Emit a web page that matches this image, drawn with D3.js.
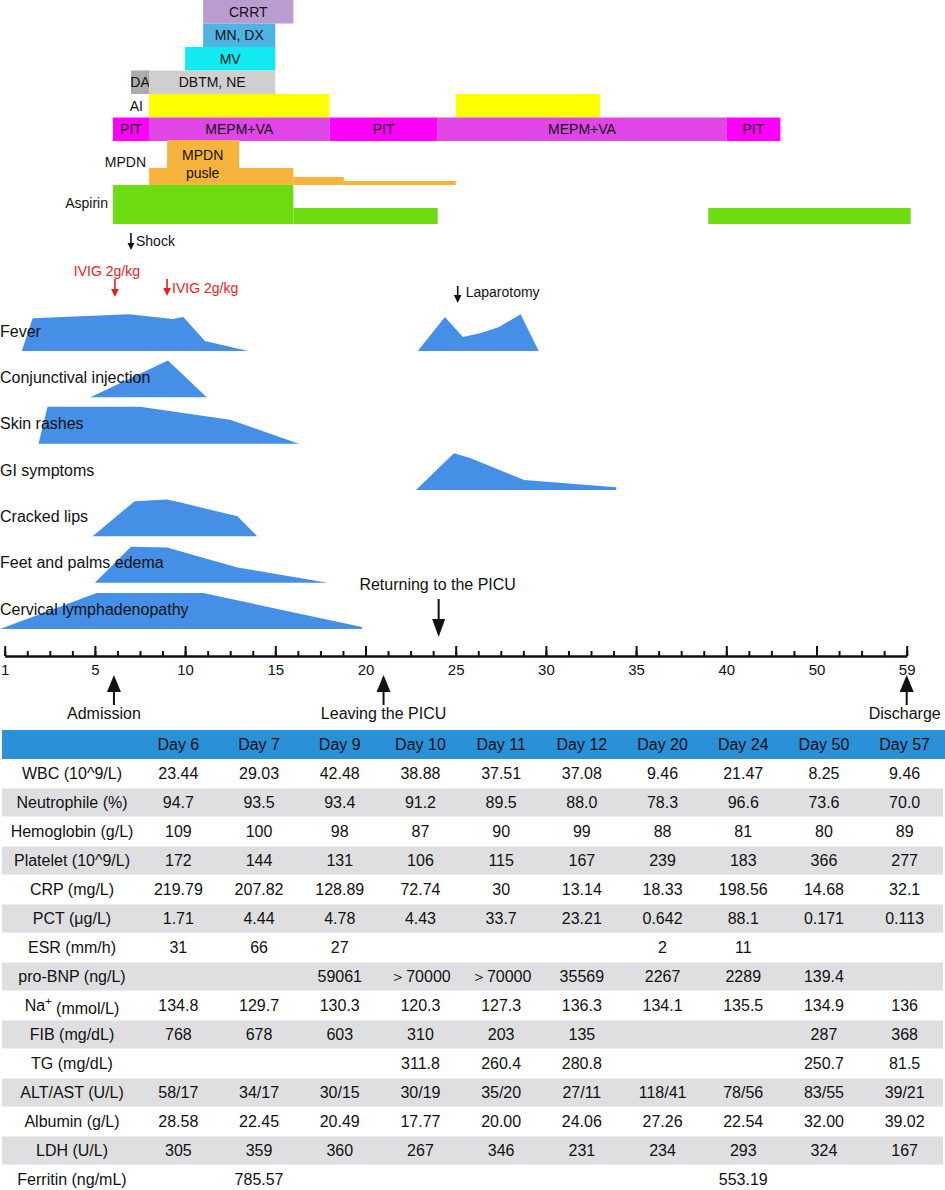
<!DOCTYPE html>
<html>
<head>
<meta charset="utf-8">
<script src="https://cdn.jsdelivr.net/npm/d3@7"></script>
<style>
body { margin: 0; background: #fff; }
svg { display: block; font-family: "Liberation Sans", Arial, sans-serif; }
</style>
</head>
<body>
<svg id="main"></svg>
<script>
const width = 945;
const height = 1190;

// timeline ticks: labelled every 4 small ticks (40 -> 50 -> 59 keep same spacing)
const dayTicks = [1, 5, 10, 15, 20, 25, 30, 35, 40, 50, 59];

// treatments [start day, end day]
const crrt = [[11, 16]];
const mnDx = [[11, 15]];
const mv = [[10, 15]];
const da = [[7, 8]];
const dbtmNe = [[8, 15]];
const ai = [[8, 18], [25, 33]];
const pit = [[6, 8], [18, 24], [40, 46]];
const mepmVa = [[8, 18], [24, 40]];
// [start day, end day, relative dose]
const mpdn = [[8, 16, 3.8], [9, 13, 10], [16, 18.8, 1.8], [18.8, 25, 0.9]];
const aspirin = [[6, 16, 10], [16, 24, 4.1], [39, 59.4, 4.1]];

// symptoms: [day, intensity 0-10]
const symptoms = ['Fever', 'Conjunctival injection', 'Skin rashes', 'GI symptoms',
    'Cracked lips', 'Feet and palms edema', 'Cervical lymphadenopathy'];
const fever = [
    [[1.76, 0], [2.24, 8.2], [6.9, 9.2], [9.3, 8], [9.9, 8.5], [11.1, 2.5], [13.5, 0]],
    [[22.9, 0], [24.4, 8.5], [25.4, 3.5], [26.4, 4.5], [27.4, 6], [28.6, 9.2], [29.6, 0]]
];
const conjunctival = [[[4.8, 0], [9.05, 9.2], [11.2, 0]]];
const skinRashes = [[[2.5, 0], [2.9, 9.2], [7.5, 9.2], [12.5, 6], [16.3, 0]]];
const giSymptoms = [[[22.8, 0], [24.9, 9.2], [25.8, 8], [28.8, 2.5], [33.9, 0.7]]];
const crackedLips = [[[4.9, 0], [7.2, 8.8], [9, 9.2], [9.7, 8.5], [12.9, 5], [14, 0]]];
const edema = [[[5, 0], [7, 9], [9, 8.8], [12.9, 3.8], [17.9, 0]]];
const lymph = [[[0.78, 0], [5.1, 9], [11, 9], [19.8, 0.5]]];
const symptomData = [fever, conjunctival, skinRashes, giSymptoms, crackedLips, edema, lymph];

// events (day)
const shockDay = 7;
const ivigDays = [6, 9];
const laparotomyDay = 25;
const returnPicuDay = 24;
const admissionDay = 6;
const leavePicuDay = 21;
const dischargeDay = 59;

// lab table
const tableDays = ['Day 6', 'Day 7', 'Day 9', 'Day 10', 'Day 11', 'Day 12', 'Day 20', 'Day 24', 'Day 50', 'Day 57'];
const labNames = ['WBC (10^9/L)', 'Neutrophile (%)', 'Hemoglobin (g/L)', 'Platelet (10^9/L)', 'CRP (mg/L)',
    'PCT (μg/L)', 'ESR (mm/h)', 'pro-BNP (ng/L)', 'Na+ (mmol/L)', 'FIB (mg/dL)', 'TG (mg/dL)',
    'ALT/AST (U/L)', 'Albumin (g/L)', 'LDH (U/L)', 'Ferritin (ng/mL)'];
const wbc = ['23.44', '29.03', '42.48', '38.88', '37.51', '37.08', '9.46', '21.47', '8.25', '9.46'];
const neutrophile = ['94.7', '93.5', '93.4', '91.2', '89.5', '88.0', '78.3', '96.6', '73.6', '70.0'];
const hemoglobin = ['109', '100', '98', '87', '90', '99', '88', '81', '80', '89'];
const platelet = ['172', '144', '131', '106', '115', '167', '239', '183', '366', '277'];
const crp = ['219.79', '207.82', '128.89', '72.74', '30', '13.14', '18.33', '198.56', '14.68', '32.1'];
const pct = ['1.71', '4.44', '4.78', '4.43', '33.7', '23.21', '0.642', '88.1', '0.171', '0.113'];
const esr = ['31', '66', '27', '', '', '', '2', '11', '', ''];
const proBnp = ['', '', '59061', '＞70000', '＞70000', '35569', '2267', '2289', '139.4', ''];
const sodium = ['134.8', '129.7', '130.3', '120.3', '127.3', '136.3', '134.1', '135.5', '134.9', '136'];
const fib = ['768', '678', '603', '310', '203', '135', '', '', '287', '368'];
const tg = ['', '', '', '311.8', '260.4', '280.8', '', '', '250.7', '81.5'];
const altAst = ['58/17', '34/17', '30/15', '30/19', '35/20', '27/11', '118/41', '78/56', '83/55', '39/21'];
const albumin = ['28.58', '22.45', '20.49', '17.77', '20.00', '24.06', '27.26', '22.54', '32.00', '39.02'];
const ldh = ['305', '359', '360', '267', '346', '231', '234', '293', '324', '167'];
const ferritin = ['', '785.57', '', '', '', '', '', '553.19', '', ''];
const labValues = [wbc, neutrophile, hemoglobin, platelet, crp, pct, esr, proBnp, sodium, fib, tg, altAst, albumin, ldh, ferritin];

const svg = d3.select('#main').attr('width', width).attr('height', height);

// timeline scale
const x = d3.scaleLinear()
    .domain(dayTicks)
    .range(dayTicks.map((d, i) => 4.7 + i * 90.2));

// ---------- treatments ----------
const rowY = d3.scaleBand()
    .domain(['CRRT', 'MN, DX', 'MV', 'DA', 'AI', 'PIT'])
    .range([0, 141]);

const barRows = [
    { row: 'CRRT', segs: crrt, color: '#b99dd1', text: 'CRRT' },
    { row: 'MN, DX', segs: mnDx, color: '#4fb4e4', text: 'MN, DX' },
    { row: 'MV', segs: mv, color: '#12eaf2', text: 'MV' },
    { row: 'DA', segs: da, color: '#acacac', text: 'DA' },
    { row: 'DA', segs: dbtmNe, color: '#cfcfcf', text: 'DBTM, NE' },
    { row: 'AI', segs: ai, color: '#ffff00', text: '' },
    { row: 'PIT', segs: pit, color: '#ff00ff', text: 'PIT' },
    { row: 'PIT', segs: mepmVa, color: '#e046e6', text: 'MEPM+VA' }
];

const treat = svg.append('g').attr('class', 'treatments');
barRows.forEach(r => {
    const g = treat.append('g');
    g.selectAll('rect')
        .data(r.segs)
        .join('rect')
        .attr('x', d => x(d[0]))
        .attr('y', rowY(r.row))
        .attr('width', d => x(d[1]) - x(d[0]))
        .attr('height', rowY.bandwidth())
        .attr('fill', r.color);
    g.selectAll('text')
        .data(r.text ? r.segs : [])
        .join('text')
        .attr('x', d => (x(d[0]) + x(d[1])) / 2)
        .attr('y', rowY(r.row) + rowY.bandwidth() / 2)
        .attr('dy', '0.35em')
        .attr('text-anchor', 'middle')
        .attr('font-size', 14)
        .attr('fill', '#111')
        .text(r.text);
});
treat.append('text')
    .attr('x', x(8) - 6).attr('y', rowY('AI') + rowY.bandwidth() / 2).attr('dy', '0.35em')
    .attr('text-anchor', 'end').attr('font-size', 14).attr('fill', '#111').text('AI');

// MPDN steps
const mpdnBase = 185;
const mpdnH = d3.scaleLinear().domain([0, 10]).range([0, 45]);
treat.append('g').selectAll('rect')
    .data(mpdn)
    .join('rect')
    .attr('x', d => x(d[0]))
    .attr('y', d => mpdnBase - mpdnH(d[2]))
    .attr('width', d => x(d[1]) - x(d[0]))
    .attr('height', d => mpdnH(d[2]))
    .attr('fill', '#f7b43d');
treat.append('text')
    .attr('x', x(8) - 3).attr('y', 162).attr('dy', '0.35em')
    .attr('text-anchor', 'end').attr('font-size', 14).attr('fill', '#111').text('MPDN');
const pulseText = treat.append('text')
    .attr('text-anchor', 'middle').attr('font-size', 14).attr('fill', '#111');
pulseText.append('tspan').attr('x', (x(9) + x(13)) / 2 - 0.5).attr('y', 155).attr('dy', '0.35em').text('MPDN');
pulseText.append('tspan').attr('x', (x(9) + x(13)) / 2 - 0.5).attr('y', 173).attr('dy', '0.35em').text('pusle');

// aspirin steps
const aspBase = 224;
const aspH = d3.scaleLinear().domain([0, 10]).range([0, 39]);
treat.append('g').selectAll('rect')
    .data(aspirin)
    .join('rect')
    .attr('x', d => x(d[0]))
    .attr('y', d => aspBase - aspH(d[2]))
    .attr('width', d => x(d[1]) - x(d[0]))
    .attr('height', d => aspH(d[2]))
    .attr('fill', '#6ddc12');
treat.append('text')
    .attr('x', x(6) - 5).attr('y', 203).attr('dy', '0.35em')
    .attr('text-anchor', 'end').attr('font-size', 14).attr('fill', '#111').text('Aspirin');

// ---------- arrows ----------
function arrow(g, ax, yFrom, yTip, headLen, headHalf, color, width) {
    const dir = yTip > yFrom ? 1 : -1;
    g.append('line')
        .attr('x1', ax).attr('x2', ax)
        .attr('y1', yFrom).attr('y2', yTip - dir * (headLen - 1))
        .attr('stroke', color).attr('stroke-width', width);
    g.append('path')
        .attr('d', `M${ax - headHalf},${yTip - dir * headLen}L${ax + headHalf},${yTip - dir * headLen}L${ax},${yTip}Z`)
        .attr('fill', color);
}

const notes = svg.append('g').attr('class', 'events');
arrow(notes, x(shockDay), 233, 250, 7, 3.5, '#111', 1.6);
notes.append('text').attr('x', x(shockDay) + 5).attr('y', 241).attr('dy', '0.35em')
    .attr('font-size', 14).attr('fill', '#111').text('Shock');

arrow(notes, x(ivigDays[0]) + 2, 279, 297, 8, 3.8, '#f01b1b', 1.6);
notes.append('text').attr('x', x(ivigDays[0]) - 6).attr('y', 271).attr('dy', '0.35em')
    .attr('text-anchor', 'middle').attr('font-size', 14).attr('fill', '#f01b1b').text('IVIG 2g/kg');
arrow(notes, x(ivigDays[1]), 279, 296, 8, 3.8, '#f01b1b', 1.6);
notes.append('text').attr('x', x(ivigDays[1]) + 5).attr('y', 288).attr('dy', '0.35em')
    .attr('font-size', 14).attr('fill', '#f01b1b').text('IVIG 2g/kg');

arrow(notes, x(laparotomyDay) + 2, 286, 303, 8, 3.8, '#111', 1.6);
notes.append('text').attr('x', x(laparotomyDay) + 10).attr('y', 292).attr('dy', '0.35em')
    .attr('font-size', 14).attr('fill', '#111').text('Laparotomy');

// ---------- symptoms ----------
const symY = d3.scalePoint().domain(symptoms).range([351, 629]);
const symH = d3.scaleLinear().domain([0, 10]).range([0, 40]);

const sym = svg.append('g').attr('class', 'symptoms');
symptoms.forEach((name, i) => {
    const base = symY(name);
    const area = d3.area()
        .x(d => x(d[0]))
        .y0(base)
        .y1(d => base - symH(d[1]));
    sym.append('g').selectAll('path')
        .data(symptomData[i])
        .join('path')
        .attr('d', area)
        .attr('fill', '#468fe6');
});
sym.append('g').selectAll('text')
    .data(symptoms)
    .join('text')
    .attr('x', 0)
    .attr('y', d => symY(d) - 20)
    .attr('dy', '0.35em')
    .attr('font-size', 16)
    .attr('fill', '#111')
    .text(d => d);

// ---------- timeline axis ----------
const axisY = 656;
const minorTicks = d3.range(41).map(i => x.invert(4.7 + i * 22.55));
const minorAxis = svg.append('g')
    .attr('transform', `translate(0,${axisY})`)
    .call(d3.axisBottom(x).tickValues(minorTicks).tickSizeInner(-5).tickSizeOuter(0).tickFormat(''));
const majorAxis = svg.append('g')
    .attr('transform', `translate(0,${axisY})`)
    .call(d3.axisBottom(x).tickValues(dayTicks).tickSizeInner(-10).tickSizeOuter(0).tickPadding(8).tickFormat(d3.format('d')));
svg.selectAll('.domain, .tick line').attr('stroke', '#111').attr('stroke-width', 2);
majorAxis.selectAll('text').attr('font-size', 15).attr('fill', '#111')
    .attr('font-family', '"Liberation Sans", Arial, sans-serif');

// returning / admission / leaving / discharge
notes.append('text').attr('x', x(returnPicuDay)).attr('y', 584).attr('dy', '0.35em')
    .attr('text-anchor', 'middle').attr('font-size', 16).attr('fill', '#111').text('Returning to the PICU');
arrow(notes, x(returnPicuDay) + 1, 599, 637, 18, 6.5, '#111', 2);

const upY = 675;
arrow(notes, x(admissionDay) + 1, 705, upY, 17, 7, '#111', 2);
arrow(notes, x(leavePicuDay), 705, upY, 17, 7, '#111', 2);
arrow(notes, x(dischargeDay), 705, upY, 17, 7, '#111', 2);
notes.append('text').attr('x', x(admissionDay) - 9).attr('y', 713).attr('dy', '0.35em')
    .attr('text-anchor', 'middle').attr('font-size', 16).attr('fill', '#111').text('Admission');
notes.append('text').attr('x', x(leavePicuDay)).attr('y', 713).attr('dy', '0.35em')
    .attr('text-anchor', 'middle').attr('font-size', 16).attr('fill', '#111').text('Leaving the PICU');
notes.append('text').attr('x', x(dischargeDay) - 2).attr('y', 713).attr('dy', '0.35em')
    .attr('text-anchor', 'middle').attr('font-size', 16).attr('fill', '#111').text('Discharge');

// ---------- lab table ----------
const colX = d3.scaleBand().domain(tableDays).range([138, 945]);
const labY = d3.scaleBand().domain(labNames).range([759, 1194]);
const labelX = 72;
const table = svg.append('g').attr('class', 'table');

table.append('rect').attr('x', 2).attr('y', 730).attr('width', 943).attr('height', 29).attr('fill', '#2a90d8');
table.selectAll('text.head')
    .data(tableDays)
    .join('text')
    .attr('class', 'head')
    .attr('x', d => colX(d) + colX.bandwidth() / 2)
    .attr('y', 744.5)
    .attr('dy', '0.35em')
    .attr('text-anchor', 'middle')
    .attr('font-size', 16)
    .attr('fill', '#111')
    .text(d => d);

table.selectAll('rect.stripe')
    .data(labNames.filter((d, i) => i % 2 === 1))
    .join('rect')
    .attr('class', 'stripe')
    .attr('x', 2)
    .attr('y', d => labY(d) + 0.5)
    .attr('width', 941)
    .attr('height', labY.bandwidth() - 1)
    .attr('fill', '#dfdfe1');

const rows = table.selectAll('g.row')
    .data(labNames.map((name, i) => ({ name, values: labValues[i] })))
    .join('g')
    .attr('class', 'row')
    .attr('transform', d => `translate(0,${labY(d.name) + labY.bandwidth() / 2})`);

rows.append('text')
    .attr('x', labelX)
    .attr('dy', '0.35em')
    .attr('text-anchor', 'middle')
    .attr('font-size', 16)
    .attr('fill', '#111')
    .each(function (d) {
        const t = d3.select(this);
        if (d.name.startsWith('Na+')) {
            t.append('tspan').text('Na');
            t.append('tspan').attr('font-size', 11).attr('dy', '-0.55em').text('+');
            t.append('tspan').attr('dy', '0.55em').text(' (mmol/L)');
        } else {
            t.text(d.name);
        }
    });

rows.selectAll('text.val')
    .data(d => d.values.map((v, i) => ({ v, day: tableDays[i] })))
    .join('text')
    .attr('class', 'val')
    .attr('x', d => colX(d.day) + colX.bandwidth() / 2)
    .attr('dy', '0.35em')
    .attr('text-anchor', 'middle')
    .attr('font-size', 16)
    .attr('fill', '#111')
    .text(d => d.v);
</script>
</body>
</html>
